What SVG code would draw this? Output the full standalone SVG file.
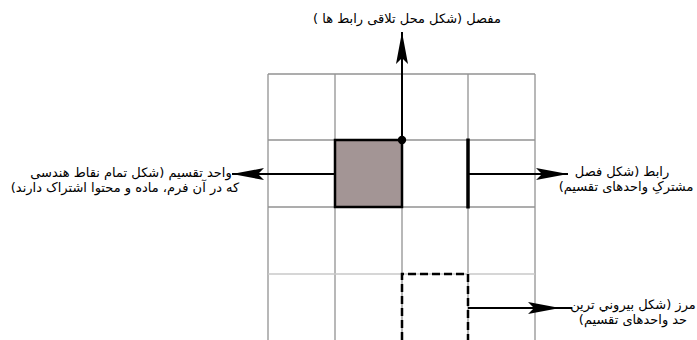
<svg xmlns="http://www.w3.org/2000/svg" width="697" height="340" viewBox="0 0 697 340">
<style>
.grid{stroke:#939393;stroke-width:1.3;fill:none}
.conn{stroke:#000;stroke-width:2;fill:none}
.lbl{font-family:"DejaVu Sans",sans-serif;font-size:13px;fill:#000;direction:rtl;text-anchor:middle}
</style>
<defs>
<marker id="ah" viewBox="0 0 32 12" refX="32" refY="6" markerWidth="32" markerHeight="12" markerUnits="userSpaceOnUse" orient="auto">
<path d="M0,0 L32,6 L0,12 L6,6 Z" fill="#000"/>
</marker>
</defs>
<rect width="697" height="340" fill="#fff"/>
<g id="grid">
<path class="grid" d="M268,74V340M335,74V340M402,74V340M468,74V340M535,74V340M268,74H535M268,140H535M268,207H535"/>
<path d="M268,274H535" stroke="#c8c8c8" stroke-width="1.3"/>
</g>
<g id="unit">
<rect x="335" y="140" width="67" height="67" fill="#a39595" stroke="#000" stroke-width="2.5"/>
</g>
<g id="link">
<line x1="468" y1="138.5" x2="468" y2="208.5" stroke="#000" stroke-width="3.5"/>
</g>
<g id="joint">
<circle cx="402" cy="140" r="4.2" fill="#000"/>
</g>
<g id="boundary">
<path d="M402,340V274H468V340" fill="none" stroke="#000" stroke-width="2.5" stroke-dasharray="8,4"/>
</g>
<g id="connectors">
<line class="conn" x1="402" y1="140" x2="402" y2="32" marker-end="url(#ah)"/>
<line class="conn" x1="335" y1="174" x2="232" y2="174" marker-end="url(#ah)"/>
<line class="conn" x1="468" y1="174" x2="568" y2="174" marker-end="url(#ah)"/>
<line class="conn" x1="468" y1="308" x2="560" y2="308" marker-end="url(#ah)"/>
<line class="conn" x1="558" y1="308" x2="572" y2="308" stroke-width="1.5"/>
</g>
<g id="labels">
<text class="lbl" x="407" y="23">مفصل (شکل محل تلاقی رابط ها )</text>
<text class="lbl" x="131" y="177">واحد تقسیم (شکل تمام نقاط هندسی</text>
<text class="lbl" x="125" y="192">که در آن فرم، ماده و محتوا اشتراک دارند)</text>
<text class="lbl" x="622" y="176">رابط (شکل فصل</text>
<text class="lbl" x="626" y="191">مشترکِ واحدهای تقسیم)</text>
<text class="lbl" x="633" y="309">مرز (شکل بيروني ترین</text>
<text class="lbl" x="633" y="324">حد واحدهای تقسیم)</text>
</g>
</svg>
